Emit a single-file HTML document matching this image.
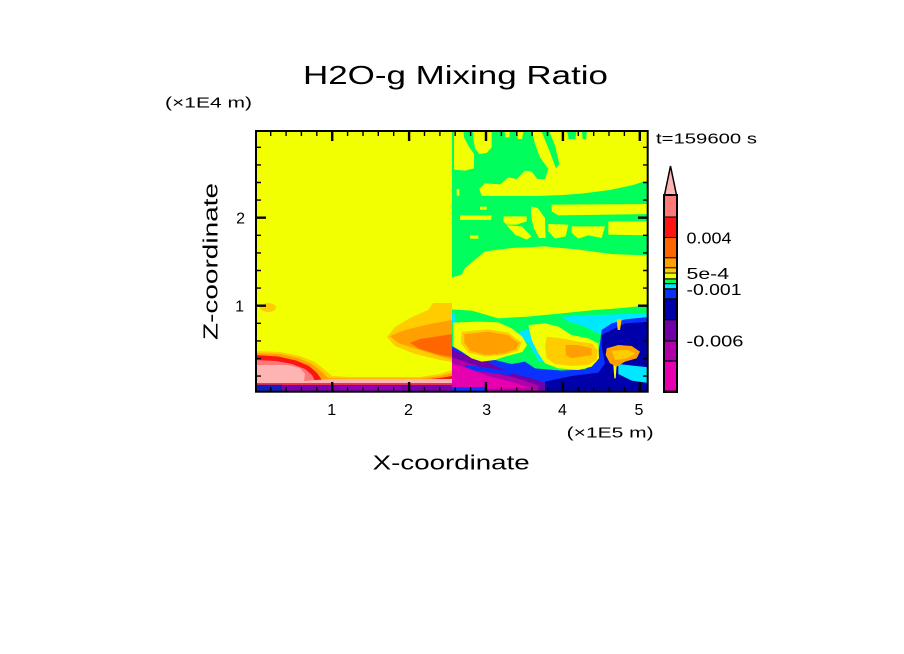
<!DOCTYPE html>
<html><head><meta charset="utf-8"><style>
html,body{margin:0;padding:0;background:#fff;}
svg{display:block;}
text{font-family:"Liberation Sans",sans-serif;fill:#000;}
</style></head><body>
<svg width="904" height="654" viewBox="0 0 904 654" xmlns="http://www.w3.org/2000/svg">
<defs>
<clipPath id="pc"><rect x="256" y="131" width="392" height="261"/></clipPath>
<clipPath id="rc"><rect x="452" y="131" width="196" height="261"/></clipPath>
<clipPath id="lc"><rect x="256" y="131" width="196" height="261"/></clipPath>
</defs>
<rect width="904" height="654" fill="#fff"/>

<g clip-path="url(#pc)">
<rect x="256" y="131" width="392" height="261" fill="#f2ff00"/>

<!-- LEFT HALF -->
<g clip-path="url(#lc)">
<ellipse cx="268" cy="307.5" rx="8" ry="4.5" fill="#ffcc00"/>
<polygon fill="#ffcc00" points="452,303 433,303 428,310 410,318 395,327 387,337 395,346 415,354 440,360 452,362"/>
<polygon fill="#ffa000" points="452,320 430,324 405,330 390,336 398,343 420,350 445,358 452,359"/>
<polygon fill="#ff6600" points="452,334 440,336 420,339 410,343 420,349 440,355 452,357"/>
<!-- bottom layers -->
<polygon fill="#ffcc00" points="256,351 280,352 300,356 315,362 325,370 332,376 350,377 420,377 440,374 452,370 452,392 256,392"/>
<polygon fill="#ffa000" points="256,353 280,354 298,358 312,364 321,371 328,378 350,378.5 420,378.5 440,376 452,373 452,392 256,392"/>
<polygon fill="#ff1414" points="256,355 278,356.5 296,360.5 309,366 317,373 322,380 350,380 420,380 440,378 452,376 452,392 256,392"/>
<polygon fill="#ff7878" points="256,360 276,361 292,364 305,369 312,375 315,381 452,381 452,392 256,392"/>
<polygon fill="#ffb4b4" points="256,365 288,365 300,368 305,374 304,381 330,379 452,379 452,384 256,384"/>
<rect x="256" y="383" width="196" height="1.8" fill="#ff3030"/>
<rect x="256" y="384.8" width="196" height="8" fill="#7a00b0"/>
<rect x="256" y="384.8" width="26" height="8" fill="#1020c0"/>
<rect x="340" y="386" width="60" height="6" fill="#9000b8"/>
</g>

<!-- RIGHT HALF -->
<g clip-path="url(#rc)">
<!-- green zone -->
<g transform="translate(445,128) scale(0.33333)">
<polygon fill="#00ff5c" points="15,0 620,0 620,383 500,378 400,365 300,355 200,360 120,370 60,420 50,440 15,450"/>
</g>
<!-- top yellow overlays -->
<g transform="translate(450,129) scale(0.33333)" fill="#f2ff00">
<polygon points="12,0 40,0 42,25 55,50 72,75 72,118 45,125 12,122"/>
<polygon points="68,0 125,0 125,55 110,72 88,75 75,58 70,30"/>
<polygon points="163,0 180,0 178,25 166,25"/>
<polygon points="200,0 222,0 216,30 204,30"/>
<polygon points="245,0 620,0 620,158 580,158 550,168 480,183 400,193 340,198 260,201 150,201 95,201 88,180 105,163 150,166 175,145 200,150 225,125 245,128 262,150 285,150 295,120 270,85 255,45"/>
<polygon points="20,180 28,180 28,200 20,200"/>
<polygon fill="#00ff5c" points="272,0 295,0 315,50 328,105 318,118 300,70"/>
<polygon fill="#00ff5c" points="350,0 380,0 376,30 356,30"/>
<polygon fill="#00ff5c" points="395,0 412,0 408,30 398,30"/>
</g>
<!-- middle yellow overlays -->
<g transform="translate(445,128) scale(0.33333)" fill="#f2ff00">
<polygon points="320,230 620,228 620,258 340,262 320,250"/>
<polygon points="105,236 125,236 125,245 105,245"/>
<polygon points="45,262 140,262 138,276 45,276"/>
<polygon points="175,265 245,265 245,280 215,290 185,290 175,280"/>
<polygon points="185,292 230,295 260,325 245,335 210,320"/>
<polygon points="258,235 278,240 300,270 302,330 282,330 266,300 258,265"/>
<polygon points="310,288 370,290 362,325 330,332 310,310"/>
<polygon points="380,295 480,295 470,330 430,322 400,332 380,315"/>
<polygon points="490,280 620,280 620,322 490,320"/>
<polygon points="75,322 100,322 100,332 75,332"/>
</g>
<!-- lower region -->
<g transform="translate(445,290) scale(0.33333)">
<polygon fill="#00ff5c" points="15,58 80,62 160,85 250,80 350,70 450,60 520,55 620,45 620,320 15,320"/>
<polygon fill="#00e8ff" points="350,80 450,75 540,72 620,70 620,150 520,150 460,130 420,110 370,95"/>
<polygon fill="#00e8ff" points="220,125 250,118 290,140 320,170 312,212 282,215 268,190 250,160 228,145"/>
<polygon fill="#00e8ff" points="15,70 30,70 30,100 15,100"/>
<polygon fill="#0a32ff" points="15,165 60,190 100,200 150,210 200,222 240,215 270,235 350,242 420,238 455,215 465,160 470,120 500,100 540,88 620,80 620,320 15,320"/>
<polygon fill="#0000aa" points="470,135 500,120 540,100 620,95 620,320 300,320 300,275 380,258 460,248 480,220 470,170"/>
<polygon fill="#00e8ff" points="520,222 610,232 620,280 560,272 520,252"/>
<polygon fill="#7000a8" points="15,175 60,195 120,212 160,232 200,250 260,265 300,278 300,320 15,320"/>
<polygon fill="#b000a8" points="15,200 80,222 150,248 220,266 280,286 280,320 15,320"/>
<polygon fill="#0a32ff" points="60,225 120,232 200,246 196,256 120,246 60,238"/>
<polygon fill="#e600b0" points="15,218 70,235 130,258 200,276 260,294 15,300"/>
<rect x="15" y="292" width="110" height="30" fill="#0a32ff"/>
<!-- blob 1 -->
<polygon fill="#f2ff00" points="25,98 100,95 160,97 200,115 232,140 246,165 232,186 180,200 150,210 110,215 80,205 50,185 25,170"/>
<polygon fill="#ffcc00" points="50,125 130,118 190,128 230,158 220,182 175,195 120,200 70,188 48,160"/>
<polygon fill="#ffa000" points="58,132 130,125 188,135 222,160 212,178 172,190 122,195 75,182 58,158"/>
<!-- blob 2 -->
<polygon fill="#f2ff00" points="250,105 300,100 340,110 380,135 430,145 460,160 462,205 440,230 400,240 340,235 300,220 280,190 260,150"/>
<polygon fill="#ffcc00" points="305,140 350,145 400,155 440,160 458,180 455,210 430,225 380,228 330,222 305,205 300,170"/>
<polygon fill="#ffa000" points="362,165 400,165 440,175 440,195 410,200 380,205 362,195"/>
<!-- blob 3 -->
<polygon fill="#f2ff00" points="505,225 515,225 512,265 508,265"/>
<polygon fill="#ffa000" points="485,175 520,165 560,168 585,185 575,205 540,215 515,230 495,220 482,195"/>
<polygon fill="#ffcc00" points="500,182 550,180 572,190 545,205 510,210"/>
<polygon fill="#ffcc00" points="515,88 530,88 525,120 518,120"/>
</g>
</g>
</g>

<!-- frame -->
<rect x="256" y="131" width="391.7" height="260.7" fill="none" stroke="#000" stroke-width="2"/>
<!-- ticks -->
<g stroke="#000" stroke-width="1.4" fill="none">
<path d="M270.7 392V387M286.1 392V387M301.4 392V387M316.8 392V387M347.6 392V387M363 392V387M378.3 392V387M393.7 392V387M424.5 392V387M439.9 392V387M455.2 392V387M470.6 392V387M501.4 392V387M516.8 392V387M532.1 392V387M547.5 392V387M578.3 392V387M593.7 392V387M609 392V387M624.4 392V387"/>
<path d="M270.7 131V136M286.1 131V136M301.4 131V136M316.8 131V136M347.6 131V136M363 131V136M378.3 131V136M393.7 131V136M424.5 131V136M439.9 131V136M455.2 131V136M470.6 131V136M501.4 131V136M516.8 131V136M532.1 131V136M547.5 131V136M578.3 131V136M593.7 131V136M609 131V136M624.4 131V136"/>
<path d="M256 376.1H261M256 358.5H261M256 340.9H261M256 323.3H261M256 288.1H261M256 270.5H261M256 252.9H261M256 235.3H261M256 200.1H261M256 182.5H261M256 164.9H261M256 147.3H261"/>
<path d="M647.7 376.1H643M647.7 358.5H643M647.7 340.9H643M647.7 323.3H643M647.7 288.1H643M647.7 270.5H643M647.7 252.9H643M647.7 235.3H643M647.7 200.1H643M647.7 182.5H643M647.7 164.9H643M647.7 147.3H643"/>
</g>
<g stroke="#000" stroke-width="2.4" fill="none">
<path d="M332.2 392V382M409.1 392V382M486 392V382M562.9 392V382M639.8 392V382"/>
<path d="M332.2 131V141M409.1 131V141M486 131V141M562.9 131V141M639.8 131V141"/>
<path d="M256 305.7H266M256 217.7H266"/>
<path d="M647.7 305.7H638M647.7 217.7H638"/>
</g>

<!-- colorbar -->
<polygon points="664.5,195 670.5,166 676.5,195" fill="#ffb4b4" stroke="#000" stroke-width="1.5"/>
<rect x="663" y="194" width="15" height="199" fill="#000"/>
<rect x="665" y="196" width="11" height="20.5" fill="#ff7878"/>
<rect x="665" y="217.5" width="11" height="19.5" fill="#ff1414"/>
<rect x="665" y="238" width="11" height="19.3" fill="#ff6600"/>
<rect x="665" y="258.3" width="11" height="9" fill="#ffa000"/>
<rect x="665" y="268.3" width="11" height="4.3" fill="#ffcc00"/>
<rect x="665" y="273.5" width="11" height="4.8" fill="#f2ff00"/>
<rect x="665" y="279.5" width="11" height="3.5" fill="#00ff5c"/>
<rect x="665" y="284.2" width="11" height="4" fill="#00e8ff"/>
<rect x="665" y="289.6" width="11" height="8.7" fill="#0a32ff"/>
<rect x="665" y="299.6" width="11" height="19.4" fill="#0000aa"/>
<rect x="665" y="320.3" width="11" height="20" fill="#7000a8"/>
<rect x="665" y="341.6" width="11" height="18.7" fill="#b000a8"/>
<rect x="665" y="361.6" width="11" height="29" fill="#e600b0"/>

<!-- texts -->
<text x="303" y="84" font-size="26" textLength="305" lengthAdjust="spacingAndGlyphs">H2O-g Mixing Ratio</text>
<text x="165" y="107.5" font-size="15" textLength="87" lengthAdjust="spacingAndGlyphs">(×1E4 m)</text>
<text x="656" y="143.5" font-size="15" textLength="101" lengthAdjust="spacingAndGlyphs">t=159600 s</text>

<text x="245" y="223.3" font-size="16" text-anchor="end">2</text>
<text x="244" y="311.5" font-size="16" text-anchor="end">1</text>

<text x="331.7" y="415" font-size="16" text-anchor="middle">1</text>
<text x="408.5" y="415" font-size="16" text-anchor="middle">2</text>
<text x="486.7" y="415" font-size="16" text-anchor="middle">3</text>
<text x="562.5" y="415" font-size="16" text-anchor="middle">4</text>
<text x="639" y="415" font-size="16" text-anchor="middle">5</text>
<text x="566.7" y="437.5" font-size="15" textLength="87" lengthAdjust="spacingAndGlyphs">(×1E5 m)</text>

<text x="372.7" y="469.3" font-size="20" textLength="157" lengthAdjust="spacingAndGlyphs">X-coordinate</text>
<text transform="translate(217.5,340) rotate(-90)" font-size="20" textLength="157" lengthAdjust="spacingAndGlyphs">Z-coordinate</text>

<text x="686.5" y="243.3" font-size="16" textLength="45" lengthAdjust="spacingAndGlyphs">0.004</text>
<text x="686.5" y="279" font-size="16" textLength="42.6" lengthAdjust="spacingAndGlyphs">5e-4</text>
<text x="686.5" y="295" font-size="16" textLength="55" lengthAdjust="spacingAndGlyphs">-0.001</text>
<text x="686.5" y="346.5" font-size="16" textLength="57" lengthAdjust="spacingAndGlyphs">-0.006</text>
</svg>
</body></html>
